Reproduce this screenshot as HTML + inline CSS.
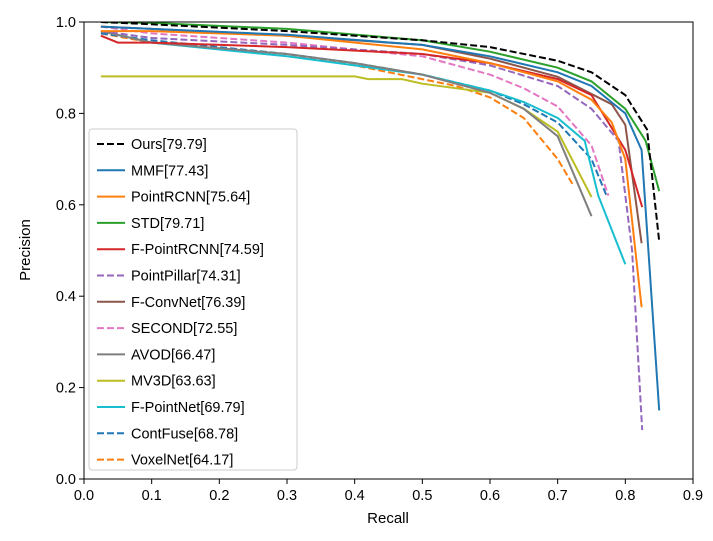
<!DOCTYPE html>
<html><head><meta charset="utf-8"><style>
body{margin:0;background:#fff;}
svg text{font-family:"Liberation Sans","DejaVu Sans",sans-serif;}
</style></head><body>
<svg id="chart" width="713" height="536" viewBox="0 0 713 536" xmlns="http://www.w3.org/2000/svg">
<rect x="0" y="0" width="713" height="536" fill="#fff"/>
<g id="series"></g>
<rect x="84" y="22" width="609" height="457" fill="none" stroke="#000" stroke-width="1"/>
<g id="axes"></g>
<text x="388" y="523" font-size="15" text-anchor="middle">Recall</text>
<text x="30" y="250" font-size="15" text-anchor="middle" transform="rotate(-90 30 250)">Precision</text>
<g id="legend"></g>
</svg>
<script>
const xTicks = [0,0.1,0.2,0.3,0.4,0.5,0.6,0.7,0.8,0.9];
const xTickLabels = ["0.0","0.1","0.2","0.3","0.4","0.5","0.6","0.7","0.8","0.9"];
const yTicks = [0,0.2,0.4,0.6,0.8,1.0];
const yTickLabels = ["0.0","0.2","0.4","0.6","0.8","1.0"];
const seriesNames = ["Ours[79.79]","MMF[77.43]","PointRCNN[75.64]","STD[79.71]","F-PointRCNN[74.59]","PointPillar[74.31]","F-ConvNet[76.39]","SECOND[72.55]","AVOD[66.47]","MV3D[63.63]","F-PointNet[69.79]","ContFuse[68.78]","VoxelNet[64.17]"];
const oursR=[0.025,0.1,0.3,0.5,0.6,0.7,0.75,0.8,0.832,0.85];
const oursP=[1.0,0.995,0.98,0.96,0.945,0.915,0.89,0.84,0.765,0.52];
const mmfR=[0.025,0.1,0.3,0.5,0.6,0.7,0.75,0.8,0.824,0.85];
const mmfP=[0.99,0.985,0.972,0.95,0.925,0.89,0.86,0.80,0.72,0.15];
const prcnnR=[0.025,0.1,0.3,0.5,0.6,0.7,0.75,0.78,0.8,0.824];
const prcnnP=[0.98,0.98,0.97,0.94,0.91,0.87,0.83,0.78,0.70,0.376];
const stdR=[0.025,0.1,0.3,0.5,0.6,0.7,0.75,0.8,0.83,0.85];
const stdP=[1.0,0.998,0.985,0.96,0.935,0.9,0.87,0.81,0.74,0.63];
const fprR=[0.025,0.05,0.1,0.3,0.5,0.6,0.7,0.75,0.8,0.825];
const fprP=[0.97,0.955,0.955,0.945,0.93,0.91,0.875,0.84,0.72,0.595];
const ppR=[0.025,0.1,0.3,0.5,0.6,0.7,0.75,0.79,0.81,0.825];
const ppP=[0.98,0.965,0.95,0.93,0.905,0.86,0.81,0.74,0.5,0.107];
const fcR=[0.025,0.1,0.3,0.5,0.6,0.7,0.78,0.8,0.824];
const fcP=[0.99,0.985,0.97,0.95,0.92,0.88,0.82,0.775,0.516];
const secR=[0.025,0.1,0.3,0.5,0.6,0.65,0.7,0.75,0.775];
const secP=[0.99,0.975,0.955,0.925,0.885,0.855,0.815,0.73,0.62];
const avodR=[0.025,0.1,0.3,0.4,0.5,0.6,0.65,0.7,0.75];
const avodP=[0.98,0.955,0.93,0.91,0.885,0.845,0.81,0.75,0.575];
const mv3dR=[0.025,0.1,0.2,0.3,0.4,0.42,0.47,0.5,0.6,0.65,0.7,0.75];
const mv3dP=[0.881,0.881,0.881,0.881,0.881,0.875,0.875,0.865,0.845,0.81,0.76,0.617];
const fpnR=[0.025,0.1,0.3,0.4,0.5,0.6,0.65,0.7,0.74,0.76,0.8];
const fpnP=[0.98,0.955,0.925,0.905,0.885,0.85,0.825,0.79,0.74,0.62,0.47];
const cfR=[0.025,0.1,0.3,0.4,0.5,0.6,0.65,0.7,0.75,0.773];
const cfP=[0.975,0.96,0.93,0.91,0.885,0.85,0.82,0.78,0.7,0.617];
const vnR=[0.025,0.1,0.3,0.4,0.5,0.55,0.6,0.65,0.7,0.724];
const vnP=[0.975,0.955,0.93,0.905,0.875,0.86,0.835,0.79,0.7,0.64];

const X0=84,X1=693,Y0=479,Y1=22;
const sx=v=>X0+(X1-X0)*v/0.9;
const sy=v=>Y0-(Y0-Y1)*v;
const NS="http://www.w3.org/2000/svg";
const specs=[[oursR,oursP,"#000000",true],[mmfR,mmfP,"#1f77b4",false],[prcnnR,prcnnP,"#ff7f0e",false],[stdR,stdP,"#2ca02c",false],[fprR,fprP,"#d62728",false],[ppR,ppP,"#9467bd",true],[fcR,fcP,"#8c564b",false],[secR,secP,"#e377c2",true],[avodR,avodP,"#7f7f7f",false],[mv3dR,mv3dP,"#bcbd22",false],[fpnR,fpnP,"#17becf",false],[cfR,cfP,"#1f77b4",true],[vnR,vnP,"#ff7f0e",true]];
const sg=document.getElementById('series');
const clip=document.createElementNS(NS,'clipPath');clip.setAttribute('id','pc');
const cr=document.createElementNS(NS,'rect');cr.setAttribute('x',X0);cr.setAttribute('y',Y1);cr.setAttribute('width',X1-X0);cr.setAttribute('height',Y0-Y1);
clip.appendChild(cr);sg.appendChild(clip);sg.setAttribute('clip-path','url(#pc)');
for(let i=specs.length-1;i>=0;i--){
  const [r,p,c,d]=specs[i];
  const pl=document.createElementNS(NS,'polyline');
  
  
  pl.setAttribute('points',r.map((v,k)=>sx(v).toFixed(1)+','+sy(p[k]).toFixed(1)).join(' '));
  pl.setAttribute('fill','none');pl.setAttribute('stroke',c);pl.setAttribute('stroke-width','2');
  if(d)pl.setAttribute('stroke-dasharray','7,3');
  sg.appendChild(pl);
}
const ag=document.getElementById('axes');
xTicks.forEach((t,i)=>{
  const l=document.createElementNS(NS,'line');
  
  
  l.setAttribute('x1',sx(t));l.setAttribute('x2',sx(t));l.setAttribute('y1',Y0);l.setAttribute('y2',Y0+5);l.setAttribute('stroke','#000');
  ag.appendChild(l);
  const tx=document.createElementNS(NS,'text');
  
  
  tx.setAttribute('x',sx(t));tx.setAttribute('y',Y0+21);tx.setAttribute('font-size','14.5');tx.setAttribute('text-anchor','middle');
  tx.textContent=xTickLabels[i];ag.appendChild(tx);
});
yTicks.forEach((t,i)=>{
  const l=document.createElementNS(NS,'line');
  
  
  l.setAttribute('x1',X0-5);l.setAttribute('x2',X0);l.setAttribute('y1',sy(t));l.setAttribute('y2',sy(t));l.setAttribute('stroke','#000');
  ag.appendChild(l);
  const tx=document.createElementNS(NS,'text');
  
  
  tx.setAttribute('x',X0-8);tx.setAttribute('y',sy(t)+5);tx.setAttribute('font-size','14.5');tx.setAttribute('text-anchor','end');
  tx.textContent=yTickLabels[i];ag.appendChild(tx);
});
const lg=document.getElementById('legend');
const box=document.createElementNS(NS,'rect');


box.setAttribute('x',89);box.setAttribute('y',129);box.setAttribute('width',208);box.setAttribute('height',341);box.setAttribute('rx',3);
box.setAttribute('fill','#fff');box.setAttribute('fill-opacity','0.85');box.setAttribute('stroke','#ccc');
lg.appendChild(box);
specs.forEach((s,i)=>{
  const y=144+i*26.3;
  const l=document.createElementNS(NS,'line');
  
  
  l.setAttribute('x1',97);l.setAttribute('x2',125);l.setAttribute('y1',y);l.setAttribute('y2',y);
  l.setAttribute('stroke',s[2]);l.setAttribute('stroke-width','2');
  if(s[3])l.setAttribute('stroke-dasharray','7,3');
  lg.appendChild(l);
  const tx=document.createElementNS(NS,'text');
  
  
  tx.setAttribute('x',131);tx.setAttribute('y',y+5);tx.setAttribute('font-size','14.5');
  tx.textContent=seriesNames[i];lg.appendChild(tx);
});
</script>
</body></html>
